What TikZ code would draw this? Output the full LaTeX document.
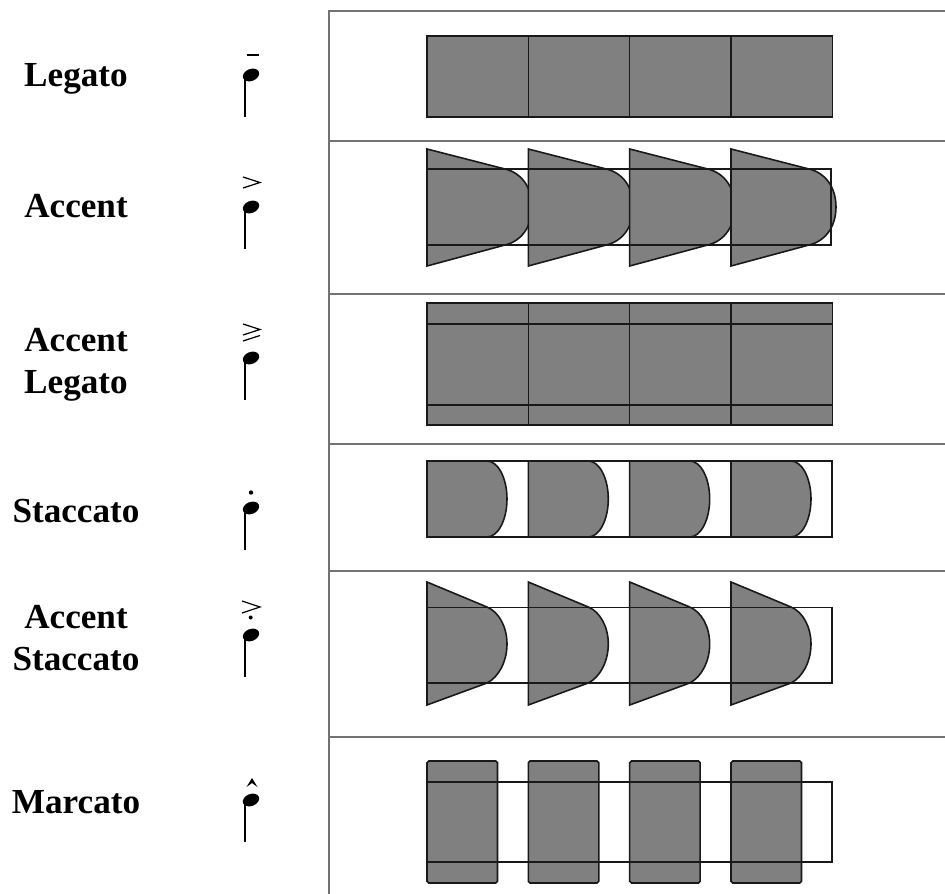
\documentclass[tikz,border=0pt]{standalone}
\usepackage{fontspec}
\setmainfont{Liberation Serif}
\begin{document}
\begin{tikzpicture}[x=0.01cm,y=-0.01cm]
				\tikzstyle{lbl}=[font=\fontsize{10}{11.8}\selectfont\bfseries,inner sep=0pt,align=center]
				\tikzstyle{grid}=[draw=black!55,line width=0.4pt]
				\tikzstyle{blk}=[fill=black!50,draw=black!90,line width=0.45pt]
				\tikzstyle{ln}=[draw=black!90,line width=0.45pt]
				\tikzstyle{artic}=[line width=0.35pt,line join=miter]

				\useasboundingbox (0,0) rectangle (945,894);

				% table
				\draw[grid] (945,11) -- (329,11) -- (329,894);
				\foreach \y in {141,294,444,571,737}
				\draw[grid] (329,\y) -- (945,\y);

				% names
				\node[lbl,anchor=base] (legato) at (76,87) {Legato};
				\node[lbl,anchor=base] (accent) at (76,218) {Accent};
				\node[lbl,anchor=north] (acclegato) at (76,328) {Accent\\Legato};
				\node[lbl,anchor=base] (staccato) at (76,522) {Staccato};
				\node[lbl,anchor=north] (accstaccato) at (76,605) {Accent\\Staccato};
				\node[lbl,anchor=base] (marcato) at (76,813) {Marcato};

				% notes
				\foreach \y in {75,207,358,508,635,800} {
				\fill[rotate around={22:(251,\y)}] (251,\y) ellipse (8.5 and 6);
				\draw[line width=0.7pt] (245,\y) -- (245,\y+42);
				}
				\draw[line width=0.5pt] (246.5,55) -- (258.5,55);
				\draw[artic] (243,177) -- (260,182.5) -- (243,188);
				\draw[artic] (243,324) -- (260,329.5) -- (243,335);
				\draw[artic] (260,335.5) -- (243,341);
				\fill (251,492.5) circle (2.2);
				\draw[artic] (242,601) -- (260,607) -- (242,613);
				\fill (250.7,617.5) circle (2);
				\fill (246.5,787) -- (252,778) -- (257.5,787) -- (252,783) -- cycle;

				% legato
				\foreach \x in {427,528.3,629.7,731}
				\draw[blk] (\x,36) rectangle +(101.3,81);

				% accent
				\foreach \x in {427,528.3,629.7,731}
				\draw[blk] (\x,149) -- (\x+78,169) .. controls (\x+95,173) and (\x+105,188) .. (\x+105,207)
				.. controls (\x+105,226) and (\x+95,241) .. (\x+78,245) -- (\x,266) -- cycle;
				\draw[ln] (427,169) rectangle (831,245);

				% accent legato
				\foreach \x in {427,528.3,629.7,731}
				\draw[blk] (\x,303) rectangle +(101.3,122);
				\draw[ln] (427,324) -- (832,324) (427,405) -- (832,405);

				% staccato
				\foreach \x in {427,528.3,629.7,731}
				\draw[blk] (\x,461) -- (\x+60,461) .. controls (\x+71,461) and (\x+80,478) .. (\x+80,499)
				.. controls (\x+80,520) and (\x+71,537) .. (\x+60,537) -- (\x,537) -- cycle;
				\draw[ln] (427,461) rectangle (832,537);

				% accent staccato
				\foreach \x in {427,528.3,629.7,731}
				\draw[blk] (\x,582) -- (\x+60,607) .. controls (\x+72,612) and (\x+80,627) .. (\x+80,644)
				.. controls (\x+80,661) and (\x+72,677) .. (\x+60,683) -- (\x,705) -- cycle;
				\draw[ln] (427,607.5) rectangle (832,683);

				% marcato
				\foreach \x in {427,528.3,629.7,731}
				\draw[blk,rounded corners=0.5pt] (\x,761) rectangle +(70.5,122);
				\draw[ln] (427,782) rectangle (832,862);
			\end{tikzpicture}
\end{document}
